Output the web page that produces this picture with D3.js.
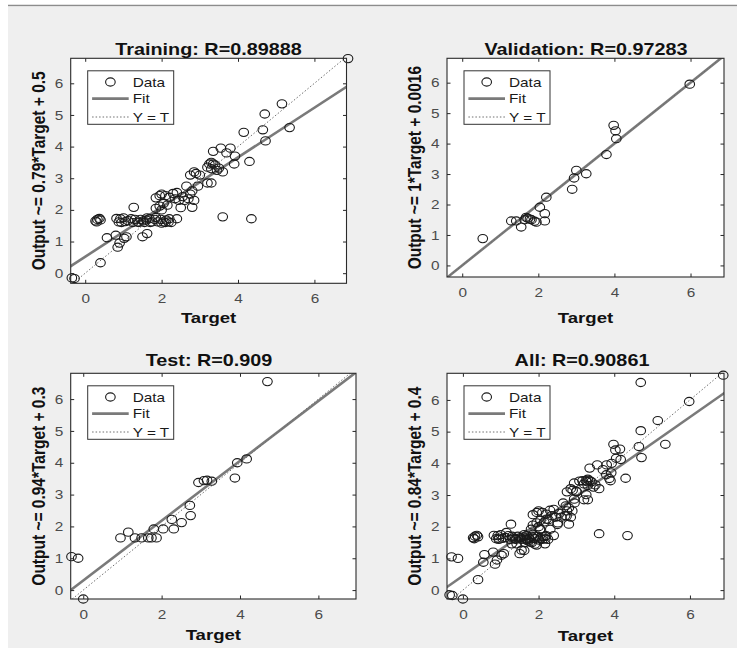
<!DOCTYPE html>
<html><head><meta charset="utf-8">
<script src="https://cdn.jsdelivr.net/npm/d3@7"></script>
<style>html,body{margin:0;padding:0;background:#fff;} svg{display:block;font-family:"Liberation Sans",Arial,sans-serif;}</style>
</head><body><div id="chart"></div>
<script>
// ---------- data ----------
const titles = ["Training: R=0.89888", "Validation: R=0.97283", "Test: R=0.909", "All: R=0.90861"];
const yAxisLabels = ["Output ~= 0.79*Target + 0.5", "Output ~= 1*Target + 0.0016", "Output ~= 0.94*Target + 0.3", "Output ~= 0.84*Target + 0.4"];
const xAxisLabel = "Target";
const legendLabels = ["Data", "Fit", "Y = T"];
const fitSlopes = [0.785, 1.0, 0.94, 0.835];
const fitIntercepts = [0.52, 0.0016, 0.3, 0.45];
const xTicks = [0, 2, 4, 6];
const yTicks = [0, 1, 2, 3, 4, 5, 6];
const xLimits = [[-0.38, 6.84], [-0.40, 6.88], [-0.32, 6.96], [-0.42, 6.90]];
const yLimits = [[-0.32, 6.79], [-0.38, 6.80], [-0.28, 6.81], [-0.28, 6.84]];

const trainingPoints = [
 [-0.35,-0.15],[-0.28,-0.17],[0.4,0.33],
 [0.27,1.65],[0.32,1.7],[0.37,1.73],[0.3,1.62],[0.4,1.68],
 [0.57,1.12],[0.85,0.82],[0.9,0.95],[0.8,1.2],[1.08,1.15],[1.02,1.1],
 [0.82,1.73],[0.92,1.72],[1.0,1.75],[0.88,1.62],[0.95,1.6],[1.05,1.63],
 [1.12,1.66],[1.2,1.72],[1.3,1.7],[1.38,1.62],[1.45,1.7],[1.52,1.65],[1.6,1.68],[1.68,1.72],
 [1.75,1.62],[1.82,1.7],[1.9,1.62],[1.98,1.7],[2.05,1.62],[2.12,1.68],[2.18,1.62],[2.25,1.6],
 [1.4,1.6],[1.55,1.6],[1.7,1.6],[2.0,1.58],[2.2,1.72],[1.85,1.76],[1.25,1.6],[1.62,1.75],[2.1,1.6],
 [1.27,2.08],[1.5,1.15],[1.62,1.25],[2.4,1.72],[3.6,1.78],[4.35,1.72],
 [1.85,2.38],[1.95,2.45],[2.0,2.5],[2.1,2.45],[2.3,2.52],[2.4,2.55],[2.2,2.4],[2.35,2.35],
 [1.85,2.05],[1.95,2.12],[2.05,2.2],[2.15,2.15],[2.0,2.0],
 [2.45,2.3],[2.55,2.42],[2.6,2.3],[2.5,2.07],[2.7,2.35],[2.75,2.5],[2.8,2.6],[2.85,2.3],[2.8,2.08],[2.65,2.75],
 [2.75,3.1],[2.85,3.2],[2.9,3.15],[3.0,3.1],[2.95,2.75],[3.2,2.85],[3.3,2.85],
 [3.2,3.35],[3.25,3.45],[3.3,3.5],[3.35,3.45],[3.4,3.42],[3.3,3.3],[3.45,3.25],[3.5,3.32],[3.6,3.2],
 [3.35,3.85],[3.55,3.95],[3.7,3.8],[3.8,3.95],[3.92,3.7],[3.9,3.45],
 [4.15,4.45],[4.3,3.53],[4.65,4.53],[4.7,5.03],[4.72,4.18],[5.15,5.35],[5.35,4.6],[6.88,6.78]
];
const validationPoints = [
 [0.54,0.88],[1.29,1.46],[1.42,1.46],[1.55,1.26],[1.64,1.5],[1.72,1.55],[1.82,1.5],
 [1.68,1.58],[1.78,1.52],[1.9,1.45],[1.95,1.42],[2.04,1.91],[2.17,1.7],[2.17,1.46],[2.21,2.24],
 [2.89,2.5],[2.94,2.87],[3.0,3.12],[3.26,3.01],[3.79,3.64],[3.98,4.6],[4.03,4.42],[4.05,4.16],[5.98,5.95]
];
const testPoints = [
 [-0.3,1.05],[-0.13,1.0],[0.0,-0.28],[0.95,1.64],[1.15,1.82],[1.32,1.64],[1.49,1.64],[1.66,1.64],
 [1.74,1.64],[1.87,1.64],[1.8,1.92],[2.04,1.92],[2.26,2.22],[2.31,1.92],[2.51,2.12],[2.74,2.34],
 [2.72,2.66],[2.94,3.38],[3.08,3.44],[3.16,3.45],[3.28,3.42],[3.87,3.52],[3.93,4.0],[4.17,4.12],[4.7,6.55]
];
const panelPoints = [trainingPoints, validationPoints, testPoints, trainingPoints.concat(validationPoints, testPoints)];

// ---------- layout & style ----------
const W = 737, H = 648, SX = 1.2;
const layout = [
 {x0:70.7, x1:346.5, y0:58.3,  y1:283.3, titleX:208.5, titleY:55,  ylabX:45,  xlabY:323},
 {x0:447,  x1:724,   y0:58.3,  y1:277,   titleX:586,   titleY:55,  ylabX:421, xlabY:323},
 {x0:70.7, x1:356,   y0:373.3, y1:599,   titleX:209,   titleY:366, ylabX:45,  xlabY:640},
 {x0:447,  x1:724,   y0:373.3, y1:599,   titleX:582,   titleY:366, ylabX:421, xlabY:641}
];

const svg = d3.select("#chart").append("svg").attr("width", W).attr("height", H);
svg.append("rect").attr("x", 8).attr("y", 7).attr("width", W - 8).attr("height", H - 7).attr("fill", "#efefef");
svg.append("line").attr("x1", 8).attr("x2", W).attr("y1", 5.5).attr("y2", 5.5).attr("stroke", "#8c8c8c").attr("stroke-width", 1.5);

layout.forEach((L, i) => {
  const x = d3.scaleLinear().domain(xLimits[i]).range([L.x0, L.x1]);
  const y = d3.scaleLinear().domain(yLimits[i]).range([L.y1, L.y0]);
  const g = svg.append("g");
  g.append("rect").attr("x", L.x0).attr("y", L.y0).attr("width", L.x1 - L.x0).attr("height", L.y1 - L.y0).attr("fill", "#fff");
  const cid = "clip" + i;
  g.append("clipPath").attr("id", cid).append("rect")
    .attr("x", L.x0).attr("y", L.y0).attr("width", L.x1 - L.x0).attr("height", L.y1 - L.y0);

  const lo = Math.min(xLimits[i][0], yLimits[i][0]) - 1, hi = Math.max(xLimits[i][1], yLimits[i][1]) + 1;
  const lineGen = d3.line().x(d => x(d[0])).y(d => y(d[1]));
  const lines = g.append("g").attr("clip-path", `url(#${cid})`);
  lines.append("path").attr("d", lineGen([[lo, fitSlopes[i]*lo + fitIntercepts[i]], [hi, fitSlopes[i]*hi + fitIntercepts[i]]]))
    .attr("stroke", "#7a7a7a").attr("stroke-width", 2.6).attr("fill", "none");
  lines.append("path").attr("d", lineGen([[lo, lo], [hi, hi]]))
    .attr("stroke", "#6e6e6e").attr("stroke-width", 1).attr("stroke-dasharray", "1.5,2").attr("fill", "none");

  g.append("g").selectAll("ellipse").data(panelPoints[i]).join("ellipse")
    .attr("cx", d => x(d[0])).attr("cy", d => y(d[1]))
    .attr("rx", 4.8).attr("ry", 4.1)
    .attr("fill", "none").attr("stroke", "#1a1a1a").attr("stroke-width", 1.1);

  const tickCol = "#262626";
  const ax = (gen, tx, ty) => {
    const a = g.append("g").attr("transform", `translate(${tx},${ty})`).call(gen);
    a.select(".domain").remove();
    a.selectAll(".tick line").attr("stroke", tickCol);
    return a;
  };
  const bottom = ax(d3.axisBottom(x).tickValues(xTicks).tickSizeInner(-3.5).tickSizeOuter(0).tickPadding(11), 0, L.y1);
  bottom.selectAll("text").attr("font-size", 12.8).attr("fill", "#4a4a4a").attr("font-family", "Liberation Sans, Arial, sans-serif")
    .attr("transform", `scale(${SX},1)`);
  const left = ax(d3.axisLeft(y).tickValues(yTicks).tickSizeInner(-3.5).tickSizeOuter(0).tickPadding(6.2), L.x0, 0);
  left.selectAll("text").attr("font-size", 12.8).attr("fill", "#4a4a4a").attr("font-family", "Liberation Sans, Arial, sans-serif")
    .attr("transform", `scale(${SX},1)`);
  ax(d3.axisTop(x).tickValues(xTicks).tickSizeInner(-3.5).tickSizeOuter(0).tickFormat(() => ""), 0, L.y0);
  ax(d3.axisRight(y).tickValues(yTicks).tickSizeInner(-3.5).tickSizeOuter(0).tickFormat(() => ""), L.x1, 0);

  g.append("rect").attr("x", L.x0).attr("y", L.y0).attr("width", L.x1 - L.x0).attr("height", L.y1 - L.y0)
    .attr("fill", "none").attr("stroke", "#2a2a2a").attr("stroke-width", 1.1);

  const lx = L.x0 + 17, ly = L.y0 + 12.5, lw = 86, lh = 53.5;
  const lg = g.append("g");
  lg.append("rect").attr("x", lx).attr("y", ly).attr("width", lw).attr("height", lh)
    .attr("fill", "#fff").attr("stroke", "#333").attr("stroke-width", 1);
  const rows = [ly + 11.2, ly + 27.8, ly + 46.2];
  lg.append("ellipse").attr("cx", lx + 22.7).attr("cy", rows[0]).attr("rx", 4.8).attr("ry", 4.1)
    .attr("fill", "none").attr("stroke", "#1a1a1a").attr("stroke-width", 1.1);
  lg.append("line").attr("x1", lx + 4.4).attr("x2", lx + 41).attr("y1", rows[1]).attr("y2", rows[1])
    .attr("stroke", "#7a7a7a").attr("stroke-width", 2.6);
  lg.append("line").attr("x1", lx + 4.4).attr("x2", lx + 41).attr("y1", rows[2]).attr("y2", rows[2])
    .attr("stroke", "#6e6e6e").attr("stroke-width", 1).attr("stroke-dasharray", "1.5,2");
  legendLabels.forEach((t, k) => {
    lg.append("text").attr("transform", `translate(${lx + 45},${rows[k] + 4.5}) scale(${SX},1)`)
      .attr("font-size", 12.8).attr("fill", "#1a1a1a").text(t);
  });

  g.append("text").attr("transform", `translate(${L.titleX},${L.titleY}) scale(${SX},1)`)
    .attr("text-anchor", "middle").attr("font-size", 16.5).attr("font-weight", "bold").attr("fill", "#111").text(titles[i]);
  g.append("text").attr("transform", `translate(${(L.x0 + L.x1) / 2},${L.xlabY}) scale(${SX},1)`)
    .attr("text-anchor", "middle").attr("font-size", 15.5).attr("font-weight", "bold").attr("fill", "#111").text(xAxisLabel);
  g.append("text").attr("transform", `translate(${L.ylabX},${(L.y0 + L.y1) / 2}) scale(${SX},1) rotate(-90)`)
    .attr("text-anchor", "middle").attr("font-size", 15.5).attr("font-weight", "bold").attr("fill", "#111").text(yAxisLabels[i]);
});
</script>
</body></html>
